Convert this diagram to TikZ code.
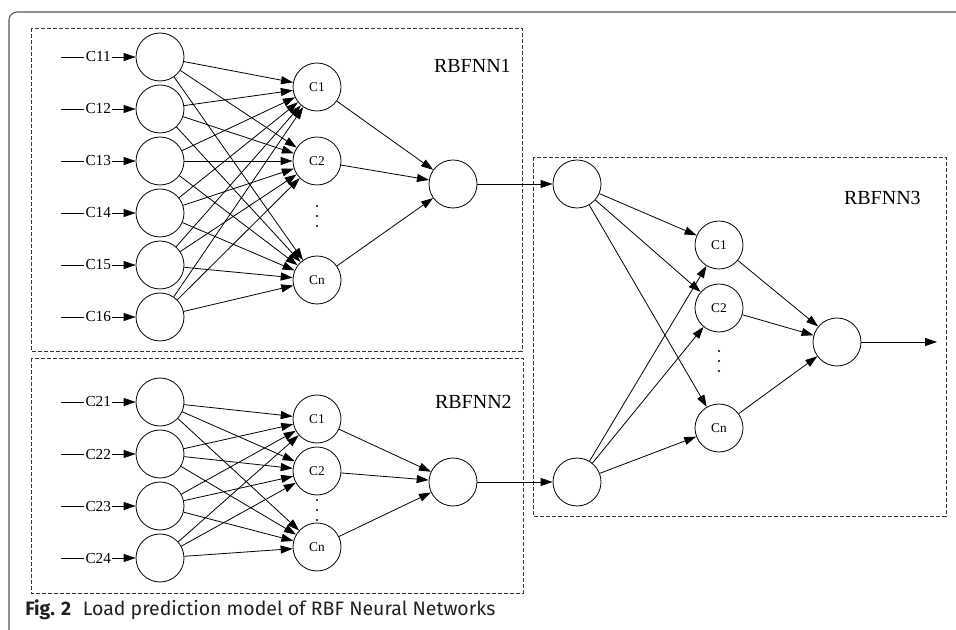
\documentclass[tikz,border=0pt]{standalone}
\usepackage{fontspec}
\setmainfont{Liberation Serif}
\setsansfont{Fira Sans}
\usepackage{tikz}
\usetikzlibrary{arrows.meta, positioning}
\definecolor{FrameGray}{HTML}{555555}
\definecolor{BoxGray}{HTML}{333333}
\definecolor{CaptionBlack}{HTML}{231F20}
\tikzset{
  % Box styles
  netbox/.style={draw=BoxGray, dash pattern=on 3pt off 1.5pt, line width=0.7pt},
  framebox/.style={draw=FrameGray, line width=0.8pt, rounded corners=6pt},
  % Node styles
  neuron/.style={circle, draw, line width=0.6pt, minimum size=36pt, inner sep=0pt, font=\fontsize{10}{12}\selectfont},
  inlabel/.style={fill=white, inner sep=1pt, font=\fontsize{11.5}{13}\selectfont},
  netlabel/.style={anchor=east, inner sep=0pt, font=\fontsize{15}{18}\selectfont},
  % Arrow styles
  arrow/.style={-{Triangle[length=9pt, width=6pt]}, line width=0.6pt}
}

\begin{document}
\begin{tikzpicture}[x=0.75pt, y=-0.75pt]
  \useasboundingbox (0,0) rectangle (956,630);

  % Page frame and caption
  \draw[framebox] (9,630) |- (956,12);
  \node[anchor=base west, inner sep=0pt, text=CaptionBlack, font=\sffamily\fontsize{14.6}{17}\selectfont] (caption) at (25,615) {\textbf{Fig. 2}\hspace{0.6em}Load prediction model of RBF Neural Networks};

  % Dashed boxes
  \draw[netbox] (31,28) rectangle (522,351);
  \draw[netbox] (31,358) rectangle (523,593);
  \draw[netbox] (533,157) rectangle (946,516);
  \node[netlabel] (lbl1) at (511,66) {RBFNN1};
  \node[netlabel] (lbl2) at (512,402) {RBFNN2};
  \node[netlabel] (lbl3) at (921,198) {RBFNN3};

  % RBFNN1
  \foreach \i/\y in {1/57,2/109,3/161,4/213,5/265,6/317} {
    \node[neuron] (a\i) at (160,\y) {};
    \coordinate (ain\i) at (61,\y);
    \draw[arrow] (ain\i) -- node[inlabel] {C1\i} (a\i);
  }
  \node[neuron] (ah1) at (317,87) {C1};
  \node[neuron] (ah2) at (317,161) {C2};
  \node[neuron] (ahn) at (317,280) {Cn};
  \node[neuron] (aout) at (453,184) {};
  \foreach \i in {1,...,6}
    \foreach \h in {1,2,n}
      \draw[arrow] (a\i) -- (ah\h);
  \foreach \h in {1,2,n}
    \draw[arrow] (ah\h) -- (aout);
  \foreach \y in {206,216,226}
    \fill (317,\y) circle (0.9pt);

  % RBFNN2
  \foreach \i/\y in {1/402,2/454,3/506,4/558} {
    \node[neuron] (b\i) at (160,\y) {};
    \coordinate (bin\i) at (61,\y);
    \draw[arrow] (bin\i) -- node[inlabel] {C2\i} (b\i);
  }
  \node[neuron] (bh1) at (317,419) {C1};
  \node[neuron] (bh2) at (317,471) {C2};
  \node[neuron] (bhn) at (317,547) {Cn};
  \node[neuron] (bout) at (453,482) {};
  \foreach \i in {1,...,4}
    \foreach \h in {1,2,n}
      \draw[arrow] (b\i) -- (bh\h);
  \foreach \h in {1,2,n}
    \draw[arrow] (bh\h) -- (bout);
  \foreach \y in {500,510,520}
    \fill (317,\y) circle (0.9pt);

  % RBFNN3
  \node[neuron] (c1) at (577,184) {};
  \node[neuron] (c2) at (577,482) {};
  \node[neuron] (ch1) at (719,245) {C1};
  \node[neuron] (ch2) at (719,308) {C2};
  \node[neuron] (chn) at (719,428) {Cn};
  \node[neuron] (cout) at (837,342) {};
  \coordinate (cend) at (937,342);
  \draw[arrow] (aout) -- (c1);
  \draw[arrow] (bout) -- (c2);
  \foreach \i in {1,2}
    \foreach \h in {1,2,n}
      \draw[arrow] (c\i) -- (ch\h);
  \foreach \h in {1,2,n}
    \draw[arrow] (ch\h) -- (cout);
  \draw[arrow] (cout) -- (cend);
  \foreach \y in {351,361,371}
    \fill (719,\y) circle (0.9pt);
\end{tikzpicture}
\end{document}
